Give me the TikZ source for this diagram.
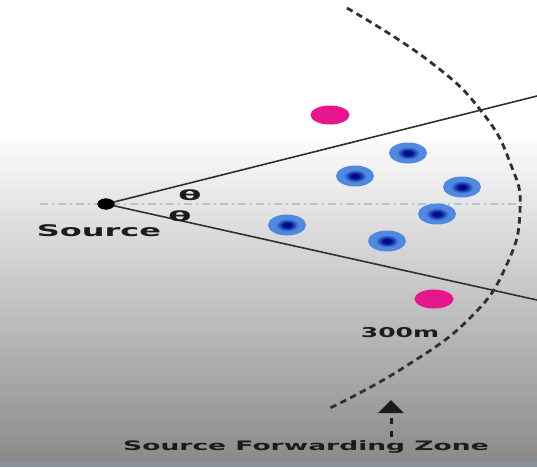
\documentclass[tikz,border=0pt]{standalone}
\usepackage{fontspec}
\setmainfont{DejaVu Sans}
\usetikzlibrary{shapes.geometric,arrows.meta}
\definecolor{bgbot}{HTML}{8A8A8A}
\definecolor{bstrip}{HTML}{8391A0}
\definecolor{dkblue}{HTML}{000C8C}
\definecolor{mblue}{HTML}{4F8AE0}
\definecolor{lblue}{HTML}{A9C8F2}
\definecolor{pinkdot}{HTML}{E8168C}
\definecolor{linegray}{HTML}{303030}
\definecolor{axisblue}{HTML}{B2C3DC}
\definecolor{txt}{HTML}{1C1C1C}
\pgfdeclareradialshading{bluedotshade}{\pgfpoint{0bp}{0bp}}{%
  color(0bp)=(dkblue); color(5bp)=(dkblue); color(15bp)=(mblue);
  color(34bp)=(mblue); color(44bp)=(lblue); color(50bp)=(lblue)}
\tikzset{
  bluedot/.style={ellipse, draw=none, shading=bluedotshade, minimum width=38pt, minimum height=21pt, inner sep=0pt},
  pinkdot/.style={ellipse, draw=none, fill=pinkdot, minimum width=39pt, minimum height=19pt, inner sep=0pt},
  ray/.style={draw=linegray, line width=1.6pt},
  lbl/.style={text=txt, font=\bfseries, inner sep=0pt},
}
\begin{document}
\begin{tikzpicture}[x=1pt,y=-1pt]
\useasboundingbox (0,0) rectangle (537,467);
% background
\fill[white] (0,0) rectangle (537,131);
\shade[top color=white, bottom color=bgbot] (0,130) rectangle (537,462);
\fill[bstrip] (0,462) rectangle (537,467);
% horizontal axis
\coordinate (axL) at (40,204);
\coordinate (axR) at (525,204);
\draw[axisblue, line width=1.5pt, dash pattern=on 8pt off 4pt on 2pt off 4pt] (axL) -- (axR);
% source node
\node[ellipse, fill=black, minimum width=17pt, minimum height=11pt, inner sep=0pt] (src) at (106,204) {};
% rays
\coordinate (upEnd) at (537,96);
\coordinate (loEnd) at (537,300);
\draw[ray] (src.center) -- (upEnd);
\draw[ray] (src.center) -- (loEnd);
\node[ellipse, fill=black, minimum width=17pt, minimum height=11pt, inner sep=0pt] at (src.center) {};
% dashed zone boundary
\draw[linegray, line width=2.8pt, dash pattern=on 6.5pt off 4.5pt]
  plot[smooth, tension=0.8] coordinates {(347,8) (429,61) (482,112) (511,165) (520,210) (507,264) (470,318) (403,368) (330,408)};
% dots
\node[pinkdot] (p1) at (330,115) {};
\node[pinkdot] (p2) at (434,299) {};
\node[bluedot] (b1) at (408,153) {};
\node[bluedot] (b2) at (355,176) {};
\node[bluedot] (b3) at (462,187) {};
\node[bluedot] (b4) at (437,214) {};
\node[bluedot] (b5) at (287,225) {};
\node[bluedot] (b6) at (387,241) {};
% labels
\node[lbl, font=\bfseries\fontsize{14}{14}\selectfont, xscale=2.4] (th1) at (190,195) {θ};
\node[lbl, font=\bfseries\fontsize{14}{14}\selectfont, xscale=2.4] (th2) at (180,216) {θ};
\node[lbl, font=\bfseries\fontsize{16}{16}\selectfont, xscale=2.0] (srcl) at (99,231) {Source};
\node[lbl, font=\bfseries\fontsize{13.5}{13.5}\selectfont, xscale=1.85] (dist) at (400,333) {300m};
\node[lbl, font=\bfseries\fontsize{13}{13}\selectfont, xscale=2.04] (sfz) at (306,447) {Source Forwarding Zone};
% arrow
\coordinate (arrS) at (391,437);
\coordinate (arrT) at (391,400);
\draw[txt, line width=3pt, dash pattern=on 6pt off 7pt, -{Triangle[width=25pt,length=13pt]}] (arrS) -- (arrT);
\end{tikzpicture}
\end{document}
